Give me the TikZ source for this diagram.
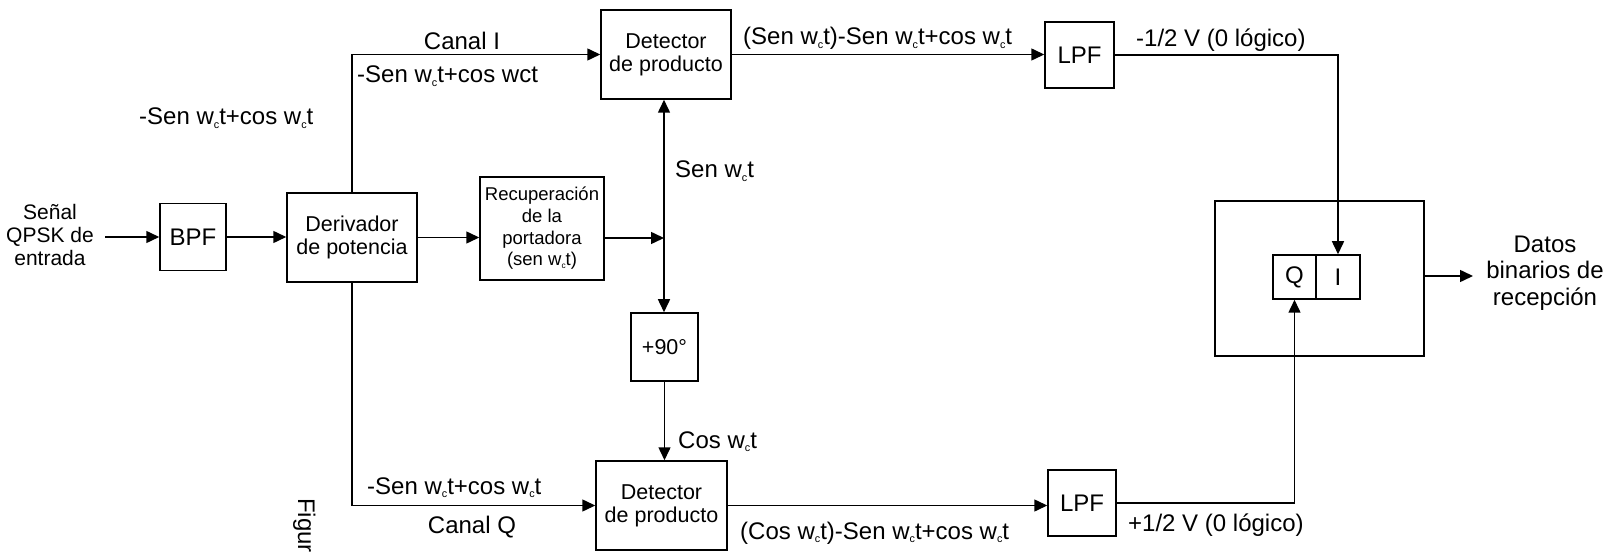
\documentclass[tikz,border=0pt]{standalone}
\usepackage{fontspec}
\setmainfont{Liberation Sans}
\usetikzlibrary{arrows.meta}
% carrier-frequency symbol: w with a tiny subscript c
\newcommand{\wc}{w\raisebox{-0.3ex}{\scalebox{0.45}{c}}}
\newcommand{\lblfont}{\fontsize{24}{26.5}\selectfont}
\newcommand{\boxfont}{\fontsize{21.5}{23}\selectfont}
\newcommand{\smallboxfont}{\fontsize{18.5}{21.7}\selectfont}

\begin{document}
\begin{tikzpicture}[x=1pt,y=-1pt,
  box/.style={draw, line width=1.5pt, inner sep=0pt, align=center, font=\boxfont},
  lbl/.style={inner sep=0pt, font=\lblfont},
  wire/.style={line width=1.5pt},
  arr/.style={wire, -{Triangle[length=13pt,width=12pt]}},
]
\useasboundingbox (0,0) rectangle (1610,553);
\fill[white] (0,0) rectangle (1610,553);
\clip (0,0) rectangle (1610,553);

% blocks
\node[box, minimum width=66, minimum height=67, font=\lblfont] (bpf) at (193,237) {BPF};
\node[box, minimum width=130, minimum height=89] (der) at (352,237.5) {Derivador\\de potencia};
\node[box, minimum width=124, minimum height=103, font=\smallboxfont] (rec) at (542,228.5) {Recuperación\\de la\\portadora\\(sen \wc t)};
\node[box, minimum width=130, minimum height=89] (deti) at (666,54.5) {Detector\\de producto};
\node[box, minimum width=67, minimum height=68] (p90) at (664.5,347) {+90\textdegree};
\node[box, minimum width=131, minimum height=89] (detq) at (661.5,505.5) {Detector\\de producto};
\node[box, minimum width=69, minimum height=66, font=\lblfont] (lpfi) at (1079.5,55) {LPF};
\node[box, minimum width=68, minimum height=66, font=\lblfont] (lpfq) at (1082,503) {LPF};
\node[box, minimum width=209, minimum height=155] (reg) at (1319.5,278.5) {};
\node[box, minimum width=43, minimum height=44, font=\lblfont] (qc) at (1294.5,277) {Q};
\node[box, minimum width=44, minimum height=44, font=\lblfont] (ic) at (1338,277) {I};

% input / output texts
\node[lbl, align=center, font=\fontsize{21}{23}\selectfont] (in) at (50,235) {Señal\\QPSK de\\entrada};
\node[lbl, align=center] (out) at (1545,273) {Datos\\binarios de\\recepción};

% signal labels
\node[lbl, anchor=base] (cani) at (462,50) {Canal I};
\node[lbl, anchor=base west] (sigi) at (357,83) {-Sen \wc t+cos wct};
\node[lbl, anchor=base west] (sigin) at (139,125) {-Sen \wc t+cos \wc t};
\node[lbl, anchor=base west] (prodi) at (743,45) {(Sen \wc t)-Sen \wc t+cos \wc t};
\node[lbl, anchor=base west] (sen) at (675,178) {Sen \wc t};
\node[lbl, anchor=base west] (cos) at (678,448) {Cos \wc t};
\node[lbl, anchor=base west] (sigq) at (367,494) {-Sen \wc t+cos \wc t};
\node[lbl, anchor=base] (canq) at (472,533) {Canal Q};
\node[lbl, anchor=base west] (prodq) at (740,539) {(Cos \wc t)-Sen \wc t+cos \wc t};
\node[lbl, anchor=base west] (vi) at (1136,47) {-1/2 V (0 lógico)};
\node[lbl, anchor=base west] (vq) at (1128,531) {+1/2 V (0 lógico)};
\node[lbl, anchor=base west, rotate=-90] (fig) at (298,498) {Figura};

% connectors
\coordinate (src) at (105,237);
\coordinate (j) at (664,238);
\coordinate (dout) at (1473,276);

\draw[arr] (src) -- (bpf.west);
\draw[arr] (bpf.east) -- (bpf.east -| der.west);
\draw[arr] (der.east) -- (der.east -| rec.west);
\draw[arr] (rec.east |- j) -- (j);
\draw[arr] (j) -- (j |- deti.south);
\draw[arr] (j) -- (j |- p90.north);
\draw[arr] (p90.south) -- (p90.south |- detq.north);
\draw[arr] (der.north) |- (deti.west);
\draw[arr] (der.south) |- (detq.west);
\draw[arr] (deti.east) -- (deti.east -| lpfi.west);
\draw[arr] (detq.east) -- (detq.east -| lpfq.west);
\draw[arr] (lpfi.east) -| (ic.north);
\draw[arr] (lpfq.east) -| (qc.south);
\draw[arr] (reg.east |- dout) -- (dout);
\end{tikzpicture}
\end{document}
